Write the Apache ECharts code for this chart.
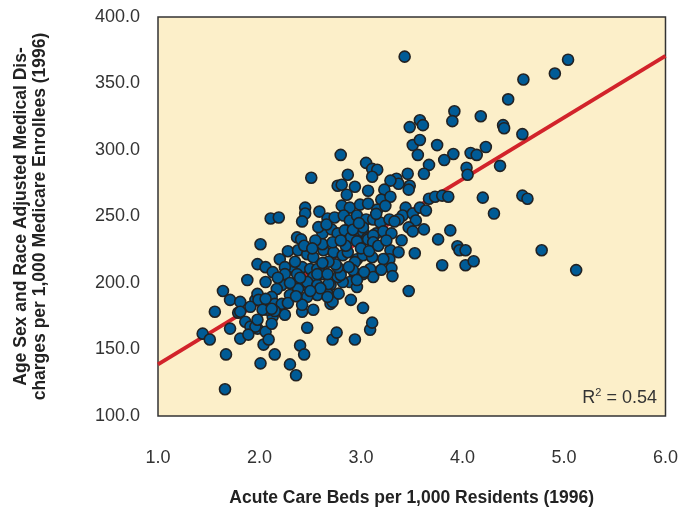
<!DOCTYPE html>
<html>
<head>
<meta charset="utf-8">
<script src="https://cdn.jsdelivr.net/npm/echarts@6/dist/echarts.min.js"></script>
<style>
  html, body { margin: 0; padding: 0; background: #fff; }
  #chart { width: 681px; height: 512px; }
</style>
</head>
<body>
<div id="chart"></div>
<script>
// acute care beds per 1,000 residents (x) and discharges per 1,000 enrollees (y)
const beds = [
  3.43, 5.04, 4.91, 4.60, 4.45, 3.92, 3.90, 4.18, 4.40, 4.41, 4.59, 3.58, 3.61, 3.48, 3.75, 3.51, 3.58, 3.56, 3.91, 4.08,
  4.14, 4.23, 3.82, 3.67, 3.62, 3.46, 3.48, 3.47, 4.04, 4.05, 4.37, 4.20, 4.59, 4.64, 4.31, 3.67, 3.73, 3.80, 3.86, 3.88,
  3.76, 3.95, 3.97, 4.03, 4.78, 5.12, 3.80, 4.03, 4.11, 3.53, 3.47, 3.62, 3.44, 3.41, 3.51, 3.58, 3.64, 3.37, 3.54, 3.47,
  3.51, 3.40, 3.29, 3.37, 3.28, 3.30, 3.31, 3.35, 3.37, 2.80, 2.51, 2.87, 3.05, 3.11, 3.16, 3.11, 3.29, 2.77, 2.81, 2.94,
  2.86, 3.07, 3.23, 3.20, 3.29, 2.81, 2.89, 2.99, 3.07, 3.16, 2.45, 2.45, 2.42, 2.59, 2.67, 2.74, 2.83, 2.89, 2.96, 3.05,
  3.12, 3.19, 3.28, 3.33, 2.37, 2.62, 2.71, 2.77, 2.84, 2.90, 2.96, 3.02, 3.06, 3.15, 3.22, 3.30, 2.11, 2.19, 2.01, 2.41,
  2.28, 2.38, 2.47, 2.53, 2.63, 2.73, 2.82, 2.87, 2.96, 3.02, 3.11, 3.09, 3.12, 3.02, 2.94, 2.89, 2.96, 2.82, 2.77, 2.70,
  2.67, 2.70, 2.57, 2.47, 2.45, 2.38, 2.33, 2.42, 2.50, 2.57, 2.62, 2.53, 2.47, 2.37, 2.20, 2.25, 2.23, 2.22, 2.17, 2.12,
  2.15, 2.22, 2.25, 2.13, 2.08, 2.04, 1.96, 1.91, 1.98, 2.06, 1.98, 2.06, 2.13, 1.88, 1.64, 1.71, 1.81, 1.79, 1.86, 1.91,
  1.98, 2.06, 2.04, 2.09, 2.12, 2.15, 1.56, 1.71, 1.81, 1.44, 1.51, 1.67, 2.01, 2.15, 2.30, 2.36, 1.66, 2.40, 2.44, 2.47,
  2.72, 2.76, 2.94, 3.09, 3.11, 2.90, 3.02, 2.42, 2.53, 3.02, 3.07, 3.12, 2.62, 2.72, 2.96, 3.12, 3.03, 2.94, 2.92, 2.96,
  2.80, 2.68, 2.57, 2.38, 2.57, 2.67, 2.77, 2.72, 2.67, 2.42, 1.99, 2.06, 2.25, 1.81, 2.03, 2.12, 2.30, 1.96, 1.98, 1.89,
  2.35, 2.44, 2.55, 2.58, 2.66, 2.75, 2.85, 2.92, 3.00, 3.08, 3.17, 3.22, 3.25, 2.52, 2.68, 2.80, 2.88, 2.98, 3.15, 3.24,
  2.60, 2.50, 2.40, 2.30, 2.18, 2.28, 2.36, 2.62, 2.78, 3.20
];
const discharges = [
  370.2, 367.9, 357.5, 353.0, 338.1, 329.1, 321.7, 325.4, 318.7, 316.4, 311.9, 322.4, 318.7, 317.2, 303.7, 303.7, 307.5, 296.3, 297.0, 297.8,
  296.3, 302.2, 292.5, 288.8, 282.1, 282.1, 273.1, 270.2, 286.6, 281.4, 288.1, 264.2, 265.7, 263.4, 252.2, 263.4, 264.9, 265.7, 264.9, 239.6,
  232.8, 227.6, 224.6, 224.6, 224.6, 209.7, 213.4, 213.4, 216.4, 222.4, 194.0, 240.3, 256.7, 250.7, 252.2, 256.7, 254.5, 247.8, 247.0, 241.8,
  238.8, 232.1, 224.6, 223.1, 217.9, 211.2, 205.2, 278.4, 274.6, 296.3, 279.1, 281.4, 290.3, 285.8, 285.1, 279.9, 277.0, 273.1, 273.9, 272.4,
  266.4, 269.4, 270.2, 262.7, 264.9, 258.2, 256.7, 258.9, 259.7, 255.2, 256.7, 252.2, 246.3, 253.7, 248.5, 249.3, 250.7, 247.0, 250.7, 247.8,
  247.8, 245.5, 247.8, 246.3, 234.3, 237.3, 240.3, 237.3, 239.6, 234.3, 239.6, 238.8, 233.6, 237.3, 238.8, 237.3, 248.5, 249.3, 229.1, 232.8,
  223.9, 224.6, 221.6, 219.4, 224.6, 223.1, 220.9, 223.1, 217.9, 220.9, 219.4, 210.5, 204.5, 206.7, 204.5, 200.7, 197.0, 200.7, 204.5, 198.5,
  191.8, 184.3, 191.0, 189.6, 198.5, 198.5, 211.9, 211.9, 210.5, 210.5, 206.7, 204.5, 200.7, 206.7, 217.9, 211.9, 204.5, 198.5, 195.5, 189.6,
  184.3, 184.3, 176.1, 174.6, 179.9, 183.6, 187.3, 182.1, 191.8, 200.7, 214.2, 211.9, 208.2, 202.2, 194.0, 187.3, 185.8, 177.6, 170.9, 167.2,
  165.7, 163.4, 153.7, 157.5, 169.4, 178.9, 178.4, 165.7, 158.2, 161.9, 157.5, 146.3, 139.6, 146.3, 138.8, 130.6, 120.1, 153.0, 146.3, 166.4,
  157.5, 162.7, 157.5, 164.9, 170.2, 187.3, 181.3, 178.4, 179.9, 241.8, 232.8, 235.8, 229.1, 230.6, 231.3, 230.6, 208.2, 215.7, 209.7, 202.2,
  206.0, 199.3, 198.5, 195.5, 206.7, 206.7, 211.9, 185.8, 189.6, 183.6, 187.3, 188.1, 206.7, 178.4, 179.9, 180.6, 191.0, 167.2, 172.4, 161.2,
  216.0, 228.0, 232.0, 242.0, 244.0, 214.0, 228.0, 240.0, 226.0, 224.0, 228.0, 218.0, 232.0, 226.0, 216.0, 232.0, 212.0, 245.0, 252.0, 258.0,
  196.0, 194.0, 204.0, 200.0, 204.0, 185.0, 190.0, 215.0, 192.0, 210.0
];
// fitted line end points
const fitX = [1.0, 6.0];
const fitY = [138.8, 370.8];
const xTicks = [1, 2, 3, 4, 5, 6];
const yTicks = [100, 150, 200, 250, 300, 350, 400];

const points = beds.map((b, i) => [b, discharges[i]]);
const fitLine = fitX.map((x, i) => [x, fitY[i]]);

const chart = echarts.init(document.getElementById('chart'));
const font = "'Liberation Sans Narrow', 'Liberation Sans', Arial, sans-serif";
chart.setOption({
  backgroundColor: '#ffffff',
  animation: false,
  grid: {
    left: 158, right: 15, top: 17, bottom: 91,
    show: true,
    backgroundColor: '#fcefc9',
    borderColor: '#333333',
    borderWidth: 1.5
  },
  xAxis: {
    type: 'value',
    min: xTicks[0], max: xTicks[xTicks.length - 1], interval: 1,
    name: 'Acute Care Beds per 1,000 Residents (1996)',
    nameLocation: 'middle',
    nameGap: 73,
    nameTextStyle: { fontFamily: font, fontWeight: 'bold', fontSize: 17.5, color: '#222' },
    axisLine: { show: false },
    axisTick: { show: false },
    splitLine: { show: false },
    axisLabel: {
      margin: 33, fontFamily: font, fontSize: 18, color: '#333',
      formatter: v => v.toFixed(1)
    }
  },
  yAxis: {
    type: 'value',
    min: yTicks[0], max: yTicks[yTicks.length - 1], interval: 50,
    name: 'Age Sex and Race Adjusted Medical Dis-\ncharges per 1,000 Medicare Enrollees (1996)',
    nameLocation: 'middle',
    nameGap: 108,
    nameTextStyle: { fontFamily: font, fontWeight: 'bold', fontSize: 17.5, color: '#222', lineHeight: 19 },
    axisLine: { show: false },
    axisTick: { show: false },
    splitLine: { show: false },
    axisLabel: {
      margin: 18, fontFamily: font, fontSize: 18, color: '#333',
      formatter: v => v.toFixed(1)
    }
  },
  graphic: [{
    type: 'text',
    right: 24, bottom: 105,
    style: {
      text: '{b|R}{s|2}{b| = 0.54}',
      rich: {
        b: { fontFamily: font, fontSize: 18, fill: '#333' },
        s: { fontFamily: font, fontSize: 11, fill: '#333', verticalAlign: 'top', padding: [0, 0, 10, 0] }
      }
    }
  }],
  series: [
    {
      type: 'line',
      data: fitLine,
      symbol: 'none',
      z: 1,
      lineStyle: { color: '#d2232a', width: 4 }
    },
    {
      type: 'scatter',
      data: points,
      symbol: 'circle',
      symbolSize: 11,
      z: 2,
      itemStyle: { color: '#005b96', borderColor: '#222222', borderWidth: 1.6, opacity: 1 }
    }
  ]
});
</script>
</body>
</html>
